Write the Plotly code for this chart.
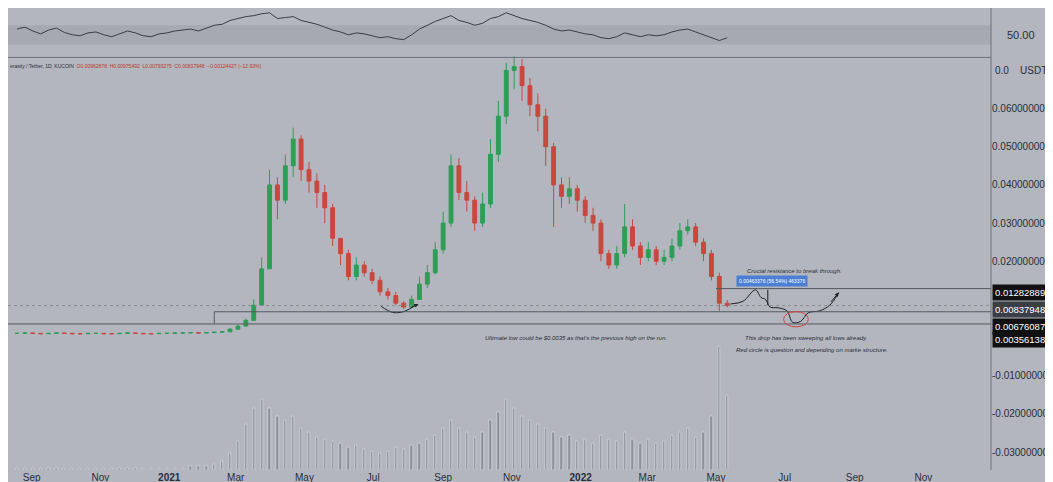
import pandas as pd
import plotly.graph_objects as go
from plotly.subplots import make_subplots

# weekly candles, VRA/USDT
closes = [0.0011, 0.0012, 0.0011, 0.0010, 0.0011, 0.0012, 0.0011, 0.0010, 0.0010, 0.0011,
          0.0011, 0.0010, 0.0010, 0.0011, 0.0012, 0.0011, 0.0010, 0.0010, 0.0011, 0.0011,
          0.0012, 0.0012, 0.0013, 0.0012, 0.0013, 0.0014,
          0.0015, 0.0022, 0.0030, 0.0045,
          0.0085, 0.0180, 0.0400, 0.0360,
          0.0450, 0.0520, 0.0440, 0.0410,
          0.0380, 0.0340, 0.0260, 0.0220,
          0.0160, 0.0190, 0.0170, 0.0150,
          0.0120, 0.0110, 0.0090, 0.0080, 0.0100,
          0.0140, 0.0170, 0.0230, 0.0300,
          0.0450, 0.0380, 0.0360, 0.0300,
          0.0350, 0.0480, 0.0580, 0.0700,
          0.0710, 0.0660, 0.0610, 0.0580,
          0.0500, 0.0400, 0.0370, 0.0390, 0.0360,
          0.0320, 0.0300, 0.0220, 0.0190,
          0.0220, 0.0290, 0.0240, 0.0210,
          0.0230, 0.0200, 0.0210, 0.0240,
          0.0280, 0.0290, 0.0250, 0.0220,
          0.0160, 0.0090, 0.0084]
highs = [0.0012, 0.0013, 0.0012, 0.0012, 0.0012, 0.0013, 0.0012, 0.0011, 0.0011, 0.0012,
         0.0012, 0.0012, 0.0011, 0.0012, 0.0013, 0.0012, 0.0011, 0.0011, 0.0012, 0.0012,
         0.0013, 0.0013, 0.0014, 0.0014, 0.0014, 0.0015,
         0.0017, 0.0025, 0.0034, 0.0050,
         0.0100, 0.0210, 0.0440, 0.0420,
         0.0480, 0.0550, 0.0530, 0.0460,
         0.0430, 0.0400, 0.0350, 0.0260,
         0.0230, 0.0210, 0.0200, 0.0180,
         0.0160, 0.0130, 0.0120, 0.0095, 0.0110,
         0.0160, 0.0190, 0.0250, 0.0330,
         0.0480, 0.0470, 0.0410, 0.0370,
         0.0380, 0.0520, 0.0620, 0.0720,
         0.0740, 0.0730, 0.0680, 0.0640,
         0.0600, 0.0510, 0.0420, 0.0420, 0.0400,
         0.0370, 0.0340, 0.0310, 0.0230,
         0.0240, 0.0350, 0.0310, 0.0250,
         0.0250, 0.0240, 0.0230, 0.0260,
         0.0300, 0.0310, 0.0300, 0.0260,
         0.0230, 0.0170, 0.0098]
lows = [0.0010, 0.0011, 0.0010, 0.0009, 0.0010, 0.0011, 0.0010, 0.0009, 0.0009, 0.0010,
        0.0010, 0.0009, 0.0009, 0.0010, 0.0011, 0.0010, 0.0009, 0.0009, 0.0010, 0.0010,
        0.0011, 0.0011, 0.0012, 0.0011, 0.0012, 0.0012,
        0.0013, 0.0015, 0.0021, 0.0029,
        0.0044, 0.0085, 0.0180, 0.0310,
        0.0350, 0.0420, 0.0410, 0.0380,
        0.0340, 0.0300, 0.0240, 0.0190,
        0.0150, 0.0150, 0.0160, 0.0140,
        0.0110, 0.0100, 0.0085, 0.0075, 0.0078,
        0.0100, 0.0130, 0.0165, 0.0220,
        0.0290, 0.0360, 0.0330, 0.0280,
        0.0290, 0.0340, 0.0460, 0.0560,
        0.0650, 0.0620, 0.0580, 0.0540,
        0.0450, 0.0290, 0.0340, 0.0350, 0.0330,
        0.0300, 0.0280, 0.0200, 0.0180,
        0.0180, 0.0210, 0.0230, 0.0190,
        0.0200, 0.0190, 0.0190, 0.0200,
        0.0230, 0.0270, 0.0240, 0.0200,
        0.0150, 0.0070, 0.0079]
volumes = [1, 1, 1, 1, 1, 1, 1, 1, 1, 1, 1, 1, 1, 1, 1, 1, 1, 1, 1, 1, 1, 1, 2, 2, 2, 3,
           4, 8, 14, 22,
           30, 34, 30, 26,
           24, 26, 20, 18,
           16, 15, 14, 13,
           11, 12, 10, 9,
           8, 9, 11, 10, 12,
           13, 15, 17, 20,
           24, 20, 18, 16,
           18, 24, 28, 34,
           30, 26, 24, 22,
           20, 18, 16, 17, 14,
           15, 13, 17, 15,
           14, 18, 15, 13,
           15, 13, 14, 17,
           18, 20, 16, 18,
           26, 60, 36]
rsi = [62, 66, 58, 52, 60, 64, 55, 50, 48, 54, 56, 50, 46, 52, 58, 54, 48, 46, 52, 54,
       58, 60, 62, 58, 64, 70,
       72, 80, 84, 88,
       90, 94, 96, 84,
       86, 88, 80, 76,
       72, 66, 60, 56,
       50, 54, 52, 48,
       44, 46, 42, 40, 50,
       62, 70, 78, 84,
       90, 80, 76, 70,
       74, 84, 88, 96,
       90, 84, 80, 76,
       70, 62, 58, 60, 56,
       52, 50, 44, 42,
       46, 54, 50, 46,
       50, 48, 50, 56,
       60, 62, 56, 50,
       44, 38, 44]
dates = pd.date_range("2020-08-19", periods=len(closes), freq="7D")
opens = [closes[0]] + closes[:-1]

# drawn projection path
path_dates = ["2022-05-14", "2022-05-25", "2022-06-05", "2022-06-10", "2022-06-14", "2022-06-18",
              "2022-06-25", "2022-07-03", "2022-07-08", "2022-07-15", "2022-07-22", "2022-08-01",
              "2022-08-10", "2022-08-18"]
path_prices = [0.0088, 0.0095, 0.0125, 0.0105, 0.0100, 0.0080, 0.0078, 0.0070, 0.0040,
               0.0042, 0.0065, 0.0070, 0.0085, 0.0118]
arc_dates = ["2021-07-08", "2021-07-18", "2021-07-28", "2021-08-08"]
arc_prices = [0.0082, 0.0066, 0.0068, 0.0086]

levels = [0.01282889, 0.00837948, 0.00676087, 0.00356138]
label_shift = [-4, -4, -15, -16]
price_ticks = [0.06, 0.05, 0.04, 0.03, 0.02, -0.01, -0.02, -0.03]
month_ticks = ["2020-09-01", "2020-11-01", "2021-01-01", "2021-03-01", "2021-05-01", "2021-07-01",
               "2021-09-01", "2021-11-01", "2022-01-01", "2022-03-01", "2022-05-01", "2022-07-01",
               "2022-09-01", "2022-11-01"]
month_labels = ["Sep", "Nov", "<b>2021</b>", "Mar", "May", "Jul", "Sep", "Nov", "<b>2022</b>",
                "Mar", "May", "Jul", "Sep", "Nov"]

x_start = "2020-08-11"
x_end = "2022-12-31"
bg = "#b3b6be"
txt = "#2a2e39"
fig = make_subplots(rows=2, cols=1, row_heights=[0.1, 0.9], vertical_spacing=0.005,
                    shared_xaxes=True, specs=[[{}], [{"secondary_y": True}]])

fig.add_trace(go.Scatter(x=dates, y=rsi, mode="lines", line=dict(color="#3a3d45", width=1),
                         showlegend=False), row=1, col=1)
fig.add_hrect(y0=30, y1=70, fillcolor="#a6a9b1", line_width=0, layer="below", row=1, col=1)

fig.add_trace(go.Bar(x=dates, y=volumes, marker_color="#8d9099", width=2 * 86400000,
                     showlegend=False), row=2, col=1, secondary_y=True)
fig.add_trace(go.Candlestick(x=dates, open=opens, high=highs, low=lows, close=closes,
                             increasing=dict(line=dict(color="#2e9e57", width=1), fillcolor="#2e9e57"),
                             decreasing=dict(line=dict(color="#c9473f", width=1), fillcolor="#c9473f"),
                             whiskerwidth=0, showlegend=False), row=2, col=1)

fig.add_trace(go.Scatter(x=path_dates, y=path_prices, mode="lines", line=dict(color="#1e2026", width=1, shape="spline"),
                         showlegend=False), row=2, col=1)
fig.add_trace(go.Scatter(x=arc_dates, y=arc_prices, mode="lines", line=dict(color="#1e2026", width=1, shape="spline"),
                         showlegend=False), row=2, col=1)

# horizontal levels
fig.add_shape(type="line", x0="2022-05-01", x1=x_end, xref="x2", y0=levels[0], y1=levels[0], yref="y2",
              line=dict(color="#55585f", width=1))
fig.add_shape(type="line", x0=x_start, x1=x_end, xref="x2", y0=levels[1], y1=levels[1], yref="y2",
              line=dict(color="#8a8d94", width=1, dash="dot"))
fig.add_shape(type="line", x0="2021-02-10", x1=x_end, xref="x2", y0=levels[2], y1=levels[2], yref="y2",
              line=dict(color="#55585f", width=1))
fig.add_shape(type="line", x0="2021-02-10", x1="2021-02-10", xref="x2", y0=levels[2], y1=levels[3], yref="y2",
              line=dict(color="#55585f", width=1))
fig.add_shape(type="line", x0=x_start, x1=x_end, xref="x2", y0=levels[3], y1=levels[3], yref="y2",
              line=dict(color="#55585f", width=1))
fig.add_shape(type="circle", x0="2022-06-30", x1="2022-07-22", y0=0.0028, y1=0.0068, xref="x2", yref="y2",
              line=dict(color="#d0453f", width=1))
fig.add_shape(type="line", x0="2022-06-16", x1="2022-06-16", y0=0.0085, y1=0.0125, xref="x2", yref="y2",
              line=dict(color="#1e2026", width=1))
fig.add_shape(type="line", x0=1, x1=1, xref="paper", y0=0, y1=1, yref="paper",
              line=dict(color="#6e7179", width=1))
fig.add_shape(type="line", x0=0, x1=1, xref="paper", y0=0.893, y1=0.893, yref="paper",
              line=dict(color="#6e7179", width=1))

fig.add_annotation(x="2022-08-18", y=0.0118, ax="2022-08-10", ay=0.0090, xref="x2", yref="y2",
                   axref="x2", ayref="y2", showarrow=True, arrowhead=2, arrowsize=0.8, arrowwidth=1,
                   arrowcolor="#1e2026", text="")
fig.add_annotation(x="2021-08-10", y=0.0088, ax="2021-08-02", ay=0.0076, xref="x2", yref="y2",
                   axref="x2", ayref="y2", showarrow=True, arrowhead=2, arrowsize=0.8, arrowwidth=1,
                   arrowcolor="#1e2026", text="")

notes = [
    ("2022-07-10", 0.0175, "Crucial resistance to break through."),
    ("2022-07-20", 0.0000, "This drop has been sweeping all lows already."),
    ("2022-07-25", -0.0032, "Red circle is question and depending on marke structure."),
    ("2021-12-28", 0.0000, "Ultimate low could be $0.0035 as that's the previous high on the run."),
]
for d, p, t in notes:
    fig.add_annotation(x=d, y=p, xref="x2", yref="y2", text="<i>" + t + "</i>", showarrow=False,
                       font=dict(size=6, color=txt, family="Liberation Sans"))
fig.add_annotation(x="2022-06-20", y=0.0147, xref="x2", yref="y2", text="0.00463376 (56.54%) 463376",
                   showarrow=False, bgcolor="#4a7fd4", font=dict(size=5, color="white", family="Liberation Sans"),
                   borderpad=2)

for lv, bgc, sh in zip(levels, ["#111111", "#3b3e46", "#111111", "#111111"], label_shift):
    fig.add_annotation(x=1.0, y=lv, xref="paper", yref="y2", xanchor="left", xshift=1, yshift=sh,
                       text="%.8f" % lv, showarrow=False, bgcolor=bgc,
                       font=dict(size=9.5, color="white", family="Liberation Sans"), borderpad=2)
fig.add_annotation(x=1.0, y=50, xref="paper", yref="y", xanchor="left", xshift=14, text="50.00",
                   showarrow=False, font=dict(size=11, color=txt, family="Liberation Sans"))
fig.add_annotation(x=1.0, y=1.0, xref="paper", yref="paper", xanchor="left", yanchor="top", xshift=2, yshift=-55,
                   text="0.0    USDT", showarrow=False, font=dict(size=10, color=txt, family="Liberation Sans"))
fig.add_annotation(x=0, y=0.885, xref="paper", yref="paper", xanchor="left", yanchor="top",
                   text="erasity / Tether, 1D, KUCOIN  <span style='color:#c0392b'>O0.00962878  H0.00975492  "
                        "L0.00793275  C0.00837948  \u22120.00124427 (\u221212.93%)</span>",
                   showarrow=False, font=dict(size=5, color=txt, family="Liberation Sans"))

fig.update_layout(width=1053, height=482, paper_bgcolor=bg, plot_bgcolor=bg,
                  margin=dict(l=0, r=70, t=0, b=20, autoexpand=False), xaxis_rangeslider_visible=False,
                  xaxis2_rangeslider_visible=False, bargap=0)
fig.update_xaxes(range=[x_start, x_end], domain=[0, 1], showgrid=False, zeroline=False, automargin=False,
                 tickvals=month_ticks, ticktext=month_labels, tickfont=dict(size=10, color=txt, family="Liberation Sans"),
                 ticks="", showline=False)
fig.update_yaxes(range=[10, 106], showticklabels=False, showgrid=False, zeroline=False, row=1, col=1)
fig.update_yaxes(range=[-0.0347, 0.0737], side="right", tickvals=price_ticks, automargin=False,
                 ticktext=["%.8f" % v for v in price_ticks], showgrid=False, zeroline=False,
                 tickfont=dict(size=10, color=txt, family="Liberation Sans"), ticks="", ticklen=4,
                 row=2, col=1, secondary_y=False)
fig.update_yaxes(range=[0, 200], showticklabels=False, showgrid=False, zeroline=False, automargin=False,
                 row=2, col=1, secondary_y=True)

fig.write_html("out.html")
